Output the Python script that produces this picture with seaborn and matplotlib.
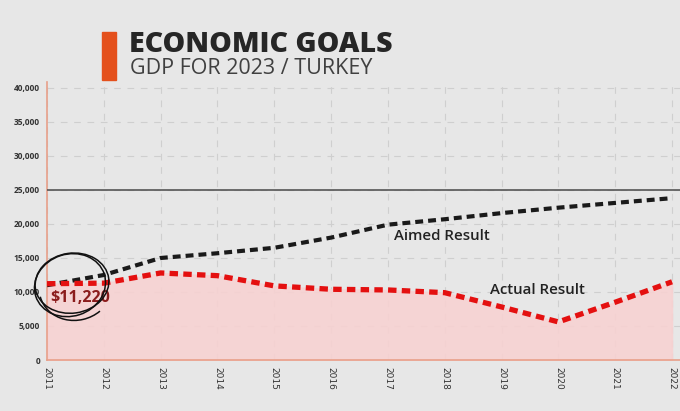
import pandas as pd
import matplotlib
import matplotlib.pyplot as plt
from matplotlib.patches import Ellipse, Arc, Rectangle
from matplotlib.transforms import Affine2D
import seaborn as sns

matplotlib.use('Agg')

# Values
years = [2011, 2012, 2013, 2014, 2015, 2016, 2017, 2018, 2019, 2020, 2021, 2022]
aimed = [11000, 12500, 15000, 15700, 16500, 18000, 19900, 20700, 21600, 22400, 23100, 23800]
actual = [11220, 11300, 12800, 12400, 10900, 10400, 10300, 9900, 7800, 5600, 8500, 11500]
y_ticks = [0, 5000, 10000, 15000, 20000, 25000, 30000, 35000, 40000]
goal_value = 25000

df = pd.DataFrame({'Year': years, 'Aimed Result': aimed, 'Actual Result': actual})

sns.set_style('white')
plt.rcParams['font.family'] = ['Open Sans', 'DejaVu Sans']

bg = '#e7e7e7'
fig = plt.figure(figsize=(6.8, 4.11), dpi=100, facecolor=bg)
ax = fig.add_axes([47 / 680, 1 - 360 / 411, 1 - 47 / 680, (360 - 82) / 411])
ax.set_facecolor(bg)

# Pink area under the actual result
ax.fill_between(df['Year'], df['Actual Result'], 0, color='#f7d2d2', alpha=0.9, zorder=1)

sns.lineplot(data=df, x='Year', y='Aimed Result', ax=ax, color='#1a1a1a',
             linewidth=3, zorder=4)
sns.lineplot(data=df, x='Year', y='Actual Result', ax=ax, color='#e41010',
             linewidth=3.8, zorder=4)
ax.lines[0].set_dashes((1.9, 1.2))
ax.lines[1].set_dashes((1.6, 1.0))

# Target line
ax.axhline(goal_value, color='#555555', linewidth=1.2, zorder=3)

ax.set_xlim(2011, 2022.14)
ax.set_ylim(0, 40880)
ax.set_xticks(years)
ax.set_xticklabels([str(y) for y in years], rotation=-90, fontsize=6.5, color='#333333',
                   family=['DejaVu Sans'])
ax.set_yticks(y_ticks)
ax.set_yticklabels([f'{v:,}' if v else '0' for v in y_ticks], fontsize=6, color='#333333',
                   fontweight='bold')
ax.tick_params(axis='both', length=0, pad=5)
ax.set_xlabel('')
ax.set_ylabel('')

ax.grid(True, color='#cfcfcf', linestyle=(0, (6, 6)), linewidth=0.8, zorder=0)
for s in ['top', 'right']:
    ax.spines[s].set_visible(False)
for s in ['left', 'bottom']:
    ax.spines[s].set_color('#e8a08a')
    ax.spines[s].set_linewidth(1.2)

# Annotations
ax.text(2017.1, 17600, 'Aimed Result', fontsize=10.8, fontweight='semibold', color='#222222', zorder=5)
ax.text(2018.8, 9700, 'Actual Result', fontsize=10.8, fontweight='semibold', color='#222222', zorder=5)
ax.text(2011.05, 8600, '$11,220', fontsize=11.5, fontweight='bold', color='#8b1c1c', zorder=5)

# Hand-drawn style circle around the start value (drawn in pixel units)
cx, cy = ax.transData.transform((2011.44, 11300))
for dx, dy, w, h, ang in [(0, 0, 74, 60, 8), (-2, -2, 72, 62, 18)]:
    ax.add_patch(Ellipse((0, 0), w, h, angle=ang, fill=False, edgecolor='#111111',
                         linewidth=1.1, zorder=6, clip_on=False,
                         transform=Affine2D().translate(cx + dx, cy + dy)))
ax.add_patch(Arc((0, 0), 74, 66, angle=15, theta1=180, theta2=300, edgecolor='#111111',
                 linewidth=1.1, zorder=6, clip_on=False,
                 transform=Affine2D().translate(cx + 4, cy - 4)))

# Title block
fig.patches.append(Rectangle((102 / 680, 1 - 80 / 411), 14 / 680, 48 / 411,
                             transform=fig.transFigure, color='#e4501c'))
fig.text(129 / 680, 1 - 45 / 411, 'ECONOMIC GOALS', fontsize=20.5, fontweight='extra bold',
         color='#262626', va='center', ha='left')
fig.text(130 / 680, 1 - 69 / 411, 'GDP FOR 2023 / TURKEY', fontsize=15.5, fontweight='normal',
         color='#404040', va='center', ha='left')

plt.savefig('out.png', dpi=100, facecolor=bg)
